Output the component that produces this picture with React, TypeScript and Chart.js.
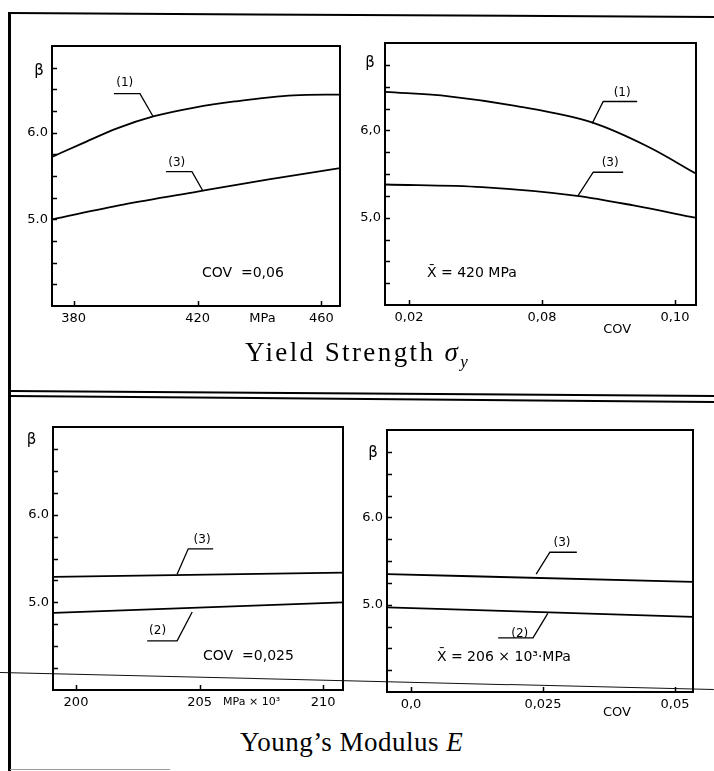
import React, { useEffect, useRef } from "react";
import { Chart, registerables } from "chart.js";
Chart.register(...registerables);

// ---------- DATA ----------
// Panel A: beta vs mean yield strength (COV = 0.06)
const ysMean_x1 = [373, 383, 394, 406, 419, 432, 451, 466];
const ysMean_b1 = [5.72, 5.88, 6.05, 6.19, 6.29, 6.36, 6.43, 6.44];
const ysMean_x3 = [373, 396, 420, 443, 466];
const ysMean_b3 = [5.0, 5.17, 5.32, 5.46, 5.59];
const ysMeanTicks = [380, 420, 460];
const ysMeanTickLabels = ["380", "420", "460"];

// Panel B: beta vs COV of yield strength (mean = 420 MPa)
const ysCov_x1 = [0.013, 0.032, 0.052, 0.075, 0.0925, 0.106];
const ysCov_b1 = [6.44, 6.39, 6.28, 6.09, 5.8, 5.51];
const ysCov_x3 = [0.013, 0.042, 0.0705, 0.0875, 0.106];
const ysCov_b3 = [5.38, 5.35, 5.25, 5.14, 5.0];
const ysCovTicks = [0.02, 0.06, 0.1];
const ysCovTickLabels = ["0,02", "0,08", "0,10"];

// Panel C: beta vs mean Young's modulus (COV = 0.025)
const eMean_x = [199.1, 210.8];
const eMean_b3 = [5.29, 5.34];
const eMean_b2 = [4.88, 5.0];
const eMeanTicks = [200, 205, 210];
const eMeanTickLabels = ["200", "205", "210"];

// Panel D: beta vs COV of Young's modulus (mean = 206e3 MPa)
const eCov_x = [-0.0045, 0.0534];
const eCov_b3 = [5.35, 5.26];
const eCov_b2 = [4.97, 4.86];
const eCovTicks = [0, 0.025, 0.05];
const eCovTickLabels = ["0,0", "0,025", "0,05"];

const betaMin = 4;
const betaMax = 7;

// ---------- PANELS ----------
type Pt = [number, number];
type CurveLabel = { text: string; at: Pt; leader: Pt[] };
type Note = { text: string; at: Pt; align: CanvasTextAlign; size?: number };
type Panel = {
  key: string;
  canvas: { left: number; top: number; w: number; h: number };
  padTop: number;
  padRight: number;
  yW: number;
  xH: number;
  xMin: number;
  xMax: number;
  xTicks: number[];
  xTickLabels: string[];
  yLabels: Record<string, string>;
  series: { xs: number[]; ys: number[] }[];
  labels: CurveLabel[];
  notes: Note[];
};

const panels: Panel[] = [
  {
    key: "A",
    canvas: { left: 12, top: 20, w: 346, h: 320 },
    padTop: 26,
    padRight: 18,
    yW: 40,
    xH: 34,
    xMin: 373,
    xMax: 466,
    xTicks: ysMeanTicks,
    xTickLabels: ysMeanTickLabels,
    yLabels: { "5": "5.0", "6": "6.0" },
    series: [
      { xs: ysMean_x1, ys: ysMean_b1 },
      { xs: ysMean_x3, ys: ysMean_b3 },
    ],
    labels: [
      { text: "(1)", at: [396.5, 6.58], leader: [[393, 6.45], [401.4, 6.45], [405.6, 6.19]] },
      { text: "(3)", at: [413.3, 5.66], leader: [[409.8, 5.55], [418.2, 5.55], [421.7, 5.33]] },
    ],
    notes: [
      { text: "COV  =0,06", at: [421.4, 4.38], align: "left" },
      { text: "β", at: [368.8, 6.71], align: "center", size: 15 },
      { text: "MPa", at: [441, 3.85], align: "center", size: 13 },
    ],
  },
  {
    key: "B",
    canvas: { left: 345, top: 20, w: 365, h: 320 },
    padTop: 23,
    padRight: 14,
    yW: 40,
    xH: 35,
    xMin: 0.0128,
    xMax: 0.1063,
    xTicks: ysCovTicks,
    xTickLabels: ysCovTickLabels,
    yLabels: { "5": "5,0", "6": "6,0" },
    series: [
      { xs: ysCov_x1, ys: ysCov_b1 },
      { xs: ysCov_x3, ys: ysCov_b3 },
    ],
    labels: [
      { text: "(1)", at: [0.0841, 6.44], leader: [[0.0886, 6.33], [0.0784, 6.33], [0.0751, 6.08]] },
      { text: "(3)", at: [0.0805, 5.64], leader: [[0.0844, 5.52], [0.0754, 5.52], [0.0708, 5.25]] },
    ],
    notes: [
      { text: "X̄ = 420 MPa", at: [0.0254, 4.36], align: "left" },
      { text: "β", at: [0.0083, 6.77], align: "center", size: 15 },
      { text: "COV", at: [0.0826, 3.72], align: "center", size: 13 },
    ],
  },
  {
    key: "C",
    canvas: { left: 13, top: 405, w: 345, h: 320 },
    padTop: 22,
    padRight: 15,
    yW: 40,
    xH: 35,
    xMin: 199.07,
    xMax: 210.8,
    xTicks: eMeanTicks,
    xTickLabels: eMeanTickLabels,
    yLabels: { "5": "5.0", "6": "6.0" },
    series: [
      { xs: eMean_x, ys: eMean_b3 },
      { xs: eMean_x, ys: eMean_b2 },
    ],
    labels: [
      { text: "(3)", at: [205.1, 5.72], leader: [[205.55, 5.61], [204.54, 5.61], [204.09, 5.32]] },
      { text: "(2)", at: [203.3, 4.69], leader: [[202.88, 4.56], [204.09, 4.56], [204.7, 4.89]] },
    ],
    notes: [
      { text: "COV  =0,025", at: [205.14, 4.38], align: "left" },
      { text: "β", at: [198.2, 6.85], align: "center", size: 15 },
      { text: "MPa × 10³", at: [205.95, 3.86], align: "left", size: 11 },
    ],
  },
  {
    key: "D",
    canvas: { left: 347, top: 405, w: 363, h: 320 },
    padTop: 25,
    padRight: 17,
    yW: 40,
    xH: 33,
    xMin: -0.00455,
    xMax: 0.0534,
    xTicks: eCovTicks,
    xTickLabels: eCovTickLabels,
    yLabels: { "5": "5.0", "6": "6.0" },
    series: [
      { xs: eCov_x, ys: eCov_b3 },
      { xs: eCov_x, ys: eCov_b2 },
    ],
    labels: [
      { text: "(3)", at: [0.0286, 5.72], leader: [[0.0314, 5.6], [0.0263, 5.6], [0.0237, 5.35]] },
      { text: "(2)", at: [0.0206, 4.68], leader: [[0.0165, 4.62], [0.0231, 4.62], [0.0259, 4.9]] },
    ],
    notes: [
      { text: "X̄ = 206 × 10³·MPa", at: [0.0049, 4.4], align: "left" },
      { text: "β", at: [-0.0072, 6.74], align: "center", size: 15 },
      { text: "COV", at: [0.039, 3.76], align: "center", size: 13 },
    ],
  },
];

const FONT = "'DejaVu Sans', 'Liberation Sans', sans-serif";

function PanelChart({ p }: { p: Panel }) {
  const ref = useRef<HTMLCanvasElement>(null);
  useEffect(() => {
    const decor = {
      id: "decor" + p.key,
      afterDraw(chart: any) {
        const { ctx, chartArea: a } = chart;
        const x = chart.scales.x;
        const y = chart.scales.y;
        ctx.save();
        ctx.strokeStyle = "#000";
        ctx.fillStyle = "#000";
        ctx.lineWidth = 2;
        ctx.strokeRect(a.left, a.top, a.right - a.left, a.bottom - a.top);
        ctx.lineWidth = 1.5;
        ctx.beginPath();
        for (const t of y.ticks) {
          if (t.value <= betaMin || t.value >= betaMax) continue;
          const py = Math.round(y.getPixelForValue(t.value)) + 0.5;
          ctx.moveTo(a.left, py);
          ctx.lineTo(a.left + 5, py);
        }
        for (const v of p.xTicks) {
          const px = Math.round(x.getPixelForValue(v)) + 0.5;
          ctx.moveTo(px, a.bottom);
          ctx.lineTo(px, a.bottom - 5);
        }
        ctx.stroke();
        ctx.lineWidth = 1.3;
        ctx.font = `12px ${FONT}`;
        ctx.textBaseline = "alphabetic";
        ctx.textAlign = "center";
        for (const l of p.labels) {
          ctx.beginPath();
          l.leader.forEach(([vx, vy], i) => {
            const px = x.getPixelForValue(vx);
            const py = y.getPixelForValue(vy);
            if (i === 0) ctx.moveTo(px, py);
            else ctx.lineTo(px, py);
          });
          ctx.stroke();
          ctx.fillText(l.text, x.getPixelForValue(l.at[0]), y.getPixelForValue(l.at[1]) + 4);
        }
        ctx.textBaseline = "middle";
        for (const n of p.notes) {
          ctx.font = `${n.size ?? 14}px ${FONT}`;
          ctx.textAlign = n.align;
          ctx.fillText(n.text, x.getPixelForValue(n.at[0]), y.getPixelForValue(n.at[1]));
        }
        ctx.restore();
      },
    };
    const chart = new Chart(ref.current!, {
      type: "line",
      data: {
        datasets: p.series.map((s) => ({
          data: s.xs.map((v, i) => ({ x: v, y: s.ys[i] })),
          borderColor: "#000",
          borderWidth: 1.8,
          pointRadius: 0,
          cubicInterpolationMode: "monotone" as const,
          fill: false,
        })),
      },
      options: {
        responsive: false,
        animation: false,
        devicePixelRatio: 1,
        layout: { padding: { top: p.padTop, right: p.padRight, left: 0, bottom: 0 } },
        plugins: { legend: { display: false }, tooltip: { enabled: false } },
        scales: {
          x: {
            type: "linear",
            min: p.xMin,
            max: p.xMax,
            border: { display: false },
            grid: { display: false, drawTicks: false },
            afterBuildTicks: (s: any) => {
              s.ticks = p.xTicks.map((v) => ({ value: v }));
            },
            afterFit: (s: any) => {
              s.height = p.xH;
            },
            ticks: {
              autoSkip: false,
              maxRotation: 0,
              padding: 5,
              color: "#000",
              font: { family: FONT, size: 13 },
              callback: (_v: any, i: number) => p.xTickLabels[i],
            },
          },
          y: {
            type: "linear",
            min: betaMin,
            max: betaMax,
            border: { display: false },
            grid: { display: false, drawTicks: false },
            afterFit: (s: any) => {
              s.width = p.yW;
            },
            ticks: {
              stepSize: 0.25,
              autoSkip: false,
              padding: 4,
              color: "#000",
              font: { family: FONT, size: 13 },
              callback: (v: any) => p.yLabels[String(v)] ?? "",
            },
          },
        },
      },
      plugins: [decor],
    } as any);
    return () => chart.destroy();
  }, []);
  const c = p.canvas;
  return (
    <canvas
      ref={ref}
      width={c.w}
      height={c.h}
      style={{ position: "absolute", left: c.left, top: c.top, width: c.w, height: c.h }}
    />
  );
}

function Line({ x1, y1, x2, y2, w, color }: { x1: number; y1: number; x2: number; y2: number; w: number; color: string }) {
  const len = Math.hypot(x2 - x1, y2 - y1);
  const ang = (Math.atan2(y2 - y1, x2 - x1) * 180) / Math.PI;
  return (
    <div
      style={{
        position: "absolute",
        left: x1,
        top: y1 - w / 2,
        width: len,
        height: w,
        background: color,
        transform: `rotate(${ang}deg)`,
        transformOrigin: `0 ${w / 2}px`,
      }}
    />
  );
}

const titleStyle: React.CSSProperties = {
  position: "absolute",
  fontFamily: "'Liberation Serif', 'DejaVu Serif', serif",
  fontSize: 27,
  lineHeight: "30px",
  whiteSpace: "nowrap",
  color: "#000",
};

export default function App() {
  return (
    <div style={{ position: "absolute", left: 0, top: 0, width: 714, height: 771, background: "#fff", overflow: "hidden" }}>
      <Line x1={10} y1={13} x2={714} y2={17} w={2} color="#000" />
      <div style={{ position: "absolute", left: 8, top: 12, width: 3, height: 759, background: "#000" }} />
      <Line x1={10} y1={391} x2={714} y2={396} w={2} color="#000" />
      <Line x1={10} y1={396} x2={714} y2={402} w={2} color="#000" />
      <Line x1={10} y1={769} x2={170} y2={769} w={1} color="#999" />
      <Line x1={0} y1={673} x2={714} y2={690} w={1.2} color="#111" />
      {panels.map((p) => (
        <PanelChart key={p.key} p={p} />
      ))}
      <div style={{ ...titleStyle, left: 245, top: 337, letterSpacing: 2.4 }}>
        Yield Strength <i>σ</i>
        <sub style={{ fontSize: 17, lineHeight: 0 }}>
          <i>y</i>
        </sub>
      </div>
      <div style={{ ...titleStyle, left: 240, top: 727, letterSpacing: 0.5 }}>
        Young’s Modulus <i>E</i>
      </div>
    </div>
  );
}
